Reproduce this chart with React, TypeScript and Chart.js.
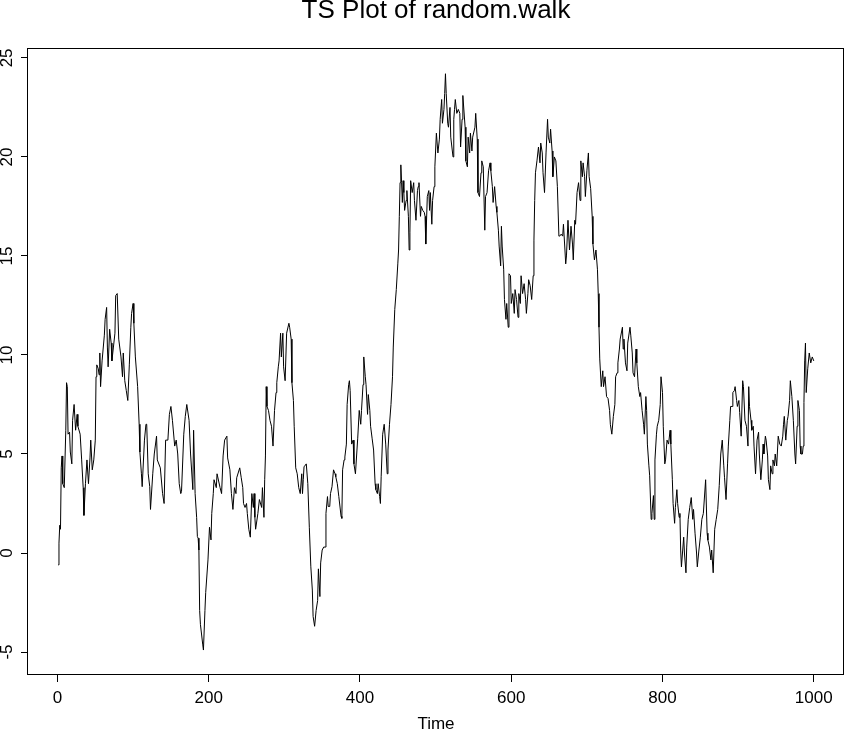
import { useEffect, useRef } from 'react'
import { Chart, registerables } from 'chart.js'

Chart.register(...registerables)

const chartTitle = 'TS Plot of random.walk'
const xTitle = 'Time'
const xTicks = [0, 200, 400, 600, 800, 1000]
const yTicks = [-5, 0, 5, 10, 15, 20, 25]

// [time, value] pairs
const walkPoints: [number, number][] = [
  [1, -0.6], [2, 0.5], [3, 1.4], [4, 1.2], [5, 4.3], [6, 4.9], [7, 3.5], [9, 3.3], [11, 6.2], [12, 8.6],
  [13, 8.4], [14, 6.0], [16, 6.1], [17, 5.1], [19, 4.5], [20, 6.7], [22, 7.5], [24, 6.2], [26, 7.0], [27, 6.4],
  [30, 6.0], [32, 4.7], [34, 3.3], [35, 1.9], [37, 3.5], [39, 4.7], [41, 3.5], [43, 4.8], [44, 5.7], [46, 4.2],
  [48, 4.7], [50, 5.7], [51, 8.9], [52, 9.5], [54, 9.3], [55, 9.0], [56, 10.1], [57, 8.4], [59, 9.7], [62, 11.0],
  [63, 11.8], [65, 12.4], [66, 10.4], [67, 9.4], [69, 11.3], [71, 10.6], [72, 9.7], [74, 10.4], [76, 11.1], [77, 13.0],
  [79, 13.1], [81, 10.8], [84, 9.9], [86, 8.9], [87, 10.1], [89, 8.7], [91, 8.2], [93, 7.7], [95, 9.5], [97, 11.4],
  [98, 12.1], [100, 12.6], [101, 11.6], [103, 9.9], [106, 8.4], [108, 6.5], [109, 5.1], [111, 4.0], [112, 3.35], [115, 5.7],
  [117, 6.5], [118, 6.5], [120, 4.0], [122, 3.35], [123, 2.2], [126, 4.0], [128, 5.0], [131, 5.9], [132, 4.7], [136, 4.3],
  [139, 3.0], [141, 2.5], [143, 5.7], [146, 5.7], [148, 7.0], [150, 7.4], [152, 6.7], [155, 5.4], [157, 5.7], [159, 5.0],
  [161, 3.5], [163, 3.0], [164, 3.1], [167, 6.0], [169, 6.9], [171, 7.5], [174, 6.7], [176, 5.0], [179, 3.2], [180, 6.2],
  [182, 3.0], [184, 1.8], [185, 0.83], [186, 0.75], [187, 0.15], [188, -2.9], [189, -3.6], [192, -4.6], [193, -4.9], [195, -2.9],
  [196, -2.0], [199, -0.35], [201, 1.3], [203, 0.66], [204, 2.0], [206, 3.0], [207, 3.7], [210, 3.3], [211, 4.0], [215, 3.3],
  [217, 3.0], [219, 4.9], [221, 5.7], [224, 5.9], [225, 4.8], [228, 4.2], [230, 3.0], [232, 2.2], [234, 3.3], [236, 3.0],
  [237, 3.8], [241, 4.3], [243, 3.8], [245, 3.3], [246, 2.5], [248, 2.3], [250, 2.5], [251, 2.0], [253, 1.2], [255, 0.8],
  [257, 3.0], [259, 2.3], [260, 3.0], [261, 1.8], [262, 1.2], [265, 2.0], [267, 2.7], [270, 2.3], [271, 3.3], [273, 1.8],
  [274, 3.7], [275, 4.9], [276, 8.4], [277, 7.4], [279, 7.2], [281, 6.7], [283, 6.4], [285, 5.4], [287, 7.2], [289, 8.1],
  [290, 8.6], [292, 9.4], [293, 9.7], [295, 11.1], [296, 9.9], [298, 11.1], [299, 9.4], [301, 8.7], [303, 11.1], [306, 11.6],
  [307, 11.4], [309, 10.8], [310, 8.6], [312, 7.7], [313, 6.4], [315, 4.3], [317, 4.0], [319, 3.3], [321, 3.0], [323, 4.0],
  [324, 3.0], [325, 3.7], [326, 4.35], [329, 4.5], [331, 3.5], [333, 1.3], [335, -0.7], [337, -1.87], [338, -3.2], [340, -3.7],
  [342, -2.9], [344, -2.4], [345, -0.8], [347, -2.2], [348, -0.5], [350, 0.15], [352, 0.3], [354, 0.3], [355, 2.0], [357, 2.85],
  [358, 2.35], [360, 2.35], [361, 3.0], [363, 3.35], [365, 4.2], [367, 4.0], [368, 3.85], [370, 3.5], [372, 2.85], [375, 1.85],
  [376, 1.75], [377, 4.2], [379, 4.7], [380, 4.85], [382, 5.5], [383, 7.5], [385, 8.5], [386, 8.7], [387, 8.2], [389, 5.5],
  [391, 5.7], [392, 4.5], [394, 4.0], [396, 5.2], [397, 5.8], [399, 7.2], [401, 6.5], [402, 7.2], [404, 8.5], [405, 9.9],
  [407, 8.9], [408, 8.5], [410, 7.0], [411, 8.0], [413, 7.2], [414, 6.4], [416, 5.8], [418, 5.2], [420, 3.5], [421, 3.2],
  [423, 3.0], [424, 3.5], [426, 2.85], [427, 2.5], [428, 3.85], [430, 6.0], [432, 6.5], [434, 5.5], [436, 4.0], [437, 5.2],
  [439, 6.5], [441, 7.5], [443, 8.9], [444, 10.4], [446, 12.3], [448, 13.3], [450, 14.6], [451, 15.3], [452, 17.0], [453, 18.7],
  [454, 19.6], [455, 18.7], [456, 17.7], [457, 18.8], [458, 18.2], [459, 17.3], [461, 17.8], [462, 18.3], [464, 17.0], [465, 15.3],
  [466, 16.2], [467, 18.8], [469, 18.2], [471, 18.7], [472, 17.8], [474, 16.8], [476, 18.3], [477, 18.5], [478, 18.7], [480, 17.0],
  [481, 17.5], [483, 17.3], [485, 17.2], [486, 17.0], [487, 15.6], [489, 18.0], [491, 18.3], [492, 17.3], [493, 18.2], [495, 16.6],
  [496, 17.8], [498, 18.5], [499, 19.5], [501, 21.2], [503, 20.2], [505, 20.9], [506, 21.9], [508, 22.9], [509, 21.7], [511, 22.4],
  [512, 23.2], [513, 24.2], [514, 23.2], [516, 21.7], [517, 21.5], [519, 22.5], [520, 21.0], [523, 20.0], [524, 21.9], [525, 22.4],
  [526, 22.9], [528, 22.2], [530, 22.4], [532, 22.2], [533, 20.5], [535, 21.9], [536, 23.1], [539, 21.5], [540, 19.8], [542, 19.5],
  [543, 21.0], [545, 20.2], [546, 21.2], [548, 20.3], [549, 21.0], [552, 21.5], [553, 22.2], [555, 20.9], [556, 18.2], [558, 18.0],
  [560, 19.2], [561, 19.8], [563, 19.5], [565, 16.3], [566, 18.0], [568, 18.2], [570, 19.3], [572, 19.7], [573, 19.3], [575, 18.5],
  [576, 17.7], [578, 18.5], [580, 17.5], [581, 17.2], [583, 16.3], [584, 15.5], [586, 14.5], [587, 16.5], [588, 15.5], [590, 14.3],
  [591, 12.8], [593, 11.8], [594, 12.6], [596, 11.4], [597, 14.1], [599, 14.0], [600, 12.6], [602, 13.1], [604, 12.1], [605, 13.3],
  [607, 12.8], [609, 11.9], [610, 13.1], [612, 12.6], [613, 14.0], [615, 13.1], [617, 13.6], [619, 12.8], [620, 12.1], [622, 13.1],
  [623, 13.8], [625, 13.5], [627, 12.8], [629, 14.0], [630, 15.8], [631, 17.8], [632, 19.2], [634, 19.8], [636, 20.5], [638, 19.7],
  [639, 20.7], [641, 20.2], [642, 19.2], [644, 18.2], [646, 20.2], [648, 21.9], [649, 21.0], [651, 20.7], [652, 21.4], [654, 20.3],
  [655, 19.0], [657, 20.0], [659, 19.8], [661, 18.5], [663, 16.0], [664, 16.0], [666, 16.1], [668, 16.0], [669, 16.6], [671, 15.3],
  [672, 14.6], [673, 15.0], [675, 16.8], [677, 15.3], [679, 16.5], [681, 15.6], [682, 14.8], [684, 16.8], [685, 16.6], [687, 18.2],
  [689, 18.7], [691, 17.8], [692, 19.8], [694, 19.0], [695, 19.7], [697, 19.0], [698, 18.0], [700, 19.3], [702, 20.2], [703, 19.0],
  [705, 18.4], [707, 17.0], [708, 15.6], [710, 14.8], [712, 15.3], [714, 14.3], [715, 13.1], [716, 11.4], [717, 9.8], [719, 8.4],
  [721, 9.2], [722, 8.4], [724, 8.9], [726, 7.9], [728, 7.8], [730, 7.2], [731, 6.5], [733, 6.0], [735, 6.9], [737, 7.5],
  [738, 8.9], [740, 9.1], [741, 9.6], [743, 10.3], [744, 10.8], [747, 11.4], [748, 10.3], [749, 10.8], [751, 9.6], [753, 9.2],
  [754, 10.6], [757, 11.4], [758, 11.0], [760, 10.1], [761, 9.1], [763, 8.9], [765, 10.3], [766, 9.6], [768, 8.4], [770, 7.9],
  [771, 8.1], [773, 7.2], [775, 6.5], [776, 6.0], [778, 7.9], [779, 7.2], [780, 5.5], [782, 4.4], [783, 3.9], [785, 1.7],
  [786, 2.0], [788, 2.9], [789, 1.7], [790, 4.7], [792, 6.0], [793, 6.4], [795, 6.7], [797, 7.5], [798, 8.9], [800, 8.1],
  [801, 6.4], [803, 4.5], [804, 4.7], [806, 5.7], [808, 5.5], [810, 6.2], [811, 5.5], [813, 3.7], [814, 2.5], [816, 1.5],
  [817, 2.3], [819, 3.2], [820, 2.5], [822, 1.8], [823, 2.0], [824, 0.15], [825, -0.7], [828, 0.8], [829, 0.0], [831, -1.0],
  [832, 0.3], [834, 1.7], [836, 2.3], [838, 2.8], [840, 1.7], [841, 2.2], [843, 1.0], [845, 0.0], [846, -0.7], [848, 0.1],
  [850, 0.8], [852, 1.7], [854, 2.0], [857, 3.7], [859, 1.0], [860, 0.65], [862, 0.3], [864, -0.35], [865, 0.15], [867, -1.0],
  [869, 1.2], [871, 1.7], [873, 2.2], [875, 3.4], [877, 5.0], [879, 5.7], [881, 4.4], [882, 3.8], [884, 2.7], [886, 4.5],
  [887, 5.4], [889, 6.7], [890, 7.4], [892, 7.4], [893, 8.1], [895, 8.2], [896, 8.4], [898, 7.7], [899, 7.4], [901, 7.7],
  [902, 7.1], [904, 5.9], [906, 8.7], [907, 8.4], [909, 6.7], [911, 6.4], [913, 5.4], [914, 8.4], [915, 7.4], [917, 6.7],
  [918, 6.2], [920, 6.4], [921, 5.4], [923, 4.0], [925, 5.7], [927, 6.1], [928, 5.0], [930, 3.7], [932, 4.7], [933, 5.5],
  [934, 5.0], [936, 5.9], [937, 5.7], [939, 4.9], [940, 3.7], [942, 3.2], [943, 4.4], [945, 4.0], [946, 4.7], [948, 4.4],
  [949, 5.0], [951, 4.4], [953, 5.9], [955, 5.5], [957, 5.4], [959, 5.9], [960, 6.5], [961, 6.9], [963, 5.7], [965, 6.7],
  [966, 6.9], [968, 7.7], [969, 8.7], [971, 7.9], [973, 6.7], [975, 5.0], [976, 4.5], [978, 6.4], [979, 7.7], [981, 7.2],
  [982, 5.4], [983, 5.0], [985, 5.0], [986, 5.4], [987, 7.6], [988, 9.7], [989, 10.6], [990, 8.1], [992, 9.3], [994, 10.1],
  [996, 9.6], [998, 9.9], [1000, 9.7],
]

const FONT = '"Liberation Sans", Arial, Helvetica, sans-serif'

// R draws a full box round the plot region
const boxPlugin = {
  id: 'rBox',
  afterDraw(chart: Chart) {
    const { ctx, chartArea: a } = chart
    ctx.save()
    ctx.strokeStyle = '#000'
    ctx.lineWidth = 1
    ctx.strokeRect(Math.round(a.left) - 0.5, Math.round(a.top) + 0.5, Math.round(a.right - a.left), Math.round(a.bottom - a.top) - 1)
    ctx.restore()
  },
}

export default function App() {
  const canvasRef = useRef<HTMLCanvasElement | null>(null)
  const chartRef = useRef<Chart | null>(null)

  useEffect(() => {
    document.body.style.margin = '0'
    const ctx = canvasRef.current?.getContext('2d')
    if (!ctx) return
    if (chartRef.current) chartRef.current.destroy()

    chartRef.current = new Chart(ctx, {
      type: 'line',
      data: {
        datasets: [
          {
            data: walkPoints.map(([t, v]) => ({ x: t, y: v })),
            borderColor: '#000',
            borderWidth: 1,
            pointRadius: 0,
            fill: false,
            tension: 0,
          },
        ],
      },
      plugins: [boxPlugin],
      options: {
        responsive: false,
        animation: false,
        events: [],
        layout: { padding: { top: 0, left: 0, right: 1, bottom: 0 } },
        plugins: {
          legend: { display: false },
          tooltip: { enabled: false },
          title: {
            display: true,
            text: chartTitle,
            fullSize: false,
            color: '#000',
            font: { family: FONT, size: 26, weight: 'normal', lineHeight: 1 },
            padding: { top: -2.5, bottom: 24.5 },
          },
        },
        scales: {
          x: {
            type: 'linear',
            min: -38.96,
            max: 1039.96,
            afterBuildTicks: (scale: any) => {
              scale.ticks = xTicks.map((value) => ({ value }))
            },
            afterFit: (scale: any) => {
              scale.height = 58
            },
            grid: { drawOnChartArea: false, drawTicks: true, tickLength: 7, color: '#000', lineWidth: 1 },
            border: { display: false },
            ticks: {
              color: '#000',
              font: { family: FONT, size: 17 },
              padding: 6,
              maxRotation: 0,
              callback: (v: any) => String(v),
            },
            title: {
              display: true,
              text: xTitle,
              color: '#000',
              font: { family: FONT, size: 17, lineHeight: 1 },
              padding: { top: 0, bottom: 0 },
            },
          },
          y: {
            type: 'linear',
            min: -6.16,
            max: 25.5,
            afterBuildTicks: (scale: any) => {
              scale.ticks = yTicks.map((value) => ({ value }))
            },
            afterFit: (scale: any) => {
              scale.width = 28
            },
            grid: { drawOnChartArea: false, drawTicks: true, tickLength: 7, color: '#000', lineWidth: 1 },
            border: { display: false },
            ticks: {
              color: '#000',
              font: { family: FONT, size: 17 },
              padding: 4,
              minRotation: 90,
              maxRotation: 90,
              crossAlign: 'center',
              callback: (v: any) => String(v),
            },
          },
        },
      },
    } as any)

    return () => {
      if (chartRef.current) {
        chartRef.current.destroy()
        chartRef.current = null
      }
    }
  }, [])

  return <canvas ref={canvasRef} width={845} height={733} style={{ display: 'block' }}></canvas>
}
